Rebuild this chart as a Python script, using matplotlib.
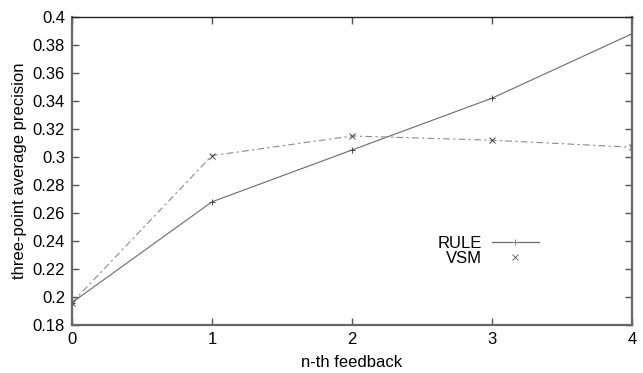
import numpy as np
import matplotlib
matplotlib.use('Agg')
import matplotlib.pyplot as plt
from matplotlib.lines import Line2D

plt.rcParams['font.family'] = ['Liberation Sans', 'DejaVu Sans']

feedback = [0, 1, 2, 3, 4]
rule = [0.196, 0.268, 0.305, 0.342, 0.388]
vsm = [0.196, 0.301, 0.315, 0.312, 0.307]
yticks = [0.18, 0.2, 0.22, 0.24, 0.26, 0.28, 0.3, 0.32, 0.34, 0.36, 0.38, 0.4]

fig = plt.figure(figsize=(6.43, 3.73), dpi=100)
ax = fig.add_axes([72 / 643., 1 - 325 / 373., (632 - 72) / 643., (325 - 17) / 373.])

ax.plot(feedback, rule, '-', color='#6a6a6a', lw=0.8, marker='+', ms=5, mew=0.7,
        mec='#444444')
ax.plot(feedback, vsm, '--', color='#8a8a8a', lw=0.8, dashes=(6, 3, 2, 3), marker='x', ms=4.5,
        mew=0.7, mec='#444444')

ax.set_xlim(0, 4)
ax.set_ylim(0.18, 0.4)
ax.set_xticks(feedback)
ax.set_yticks(yticks)
ax.set_yticklabels(['%g' % v for v in yticks])
ax.tick_params(direction='in', top=True, right=True, length=5, width=1,
               color='#555555', labelsize=12, pad=5)
for s in ax.spines.values():
    s.set_color('#666666')
    s.set_linewidth(1.6)
ax.spines['top'].set_color('#222222')
ax.spines['top'].set_linewidth(1.0)

ax.set_xlabel('n-th feedback', fontsize=12, labelpad=6)
ax.set_ylabel('three-point average precision', fontsize=12, labelpad=4)

handles = [Line2D([], [], color='#6a6a6a', lw=0.9, marker='+', ms=5, mew=0.7, mec='#888888'),
           Line2D([], [], ls='none', marker='x', ms=4.5, mew=0.7, mec='#666666')]
ax.legend(handles, ['RULE', 'VSM'], loc='center left', bbox_to_anchor=(0.638, 0.24),
          frameon=False, markerfirst=False, fontsize=12, handlelength=2.8,
          handletextpad=0.6, labelspacing=0.0, borderpad=0)

fig.savefig('out.png', dpi=100)
